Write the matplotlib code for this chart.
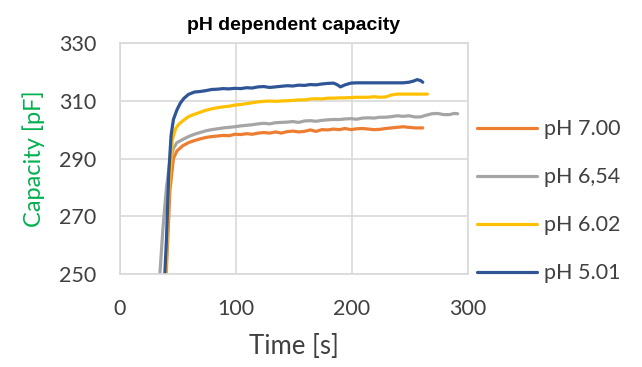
import matplotlib
matplotlib.use("Agg")
import matplotlib.pyplot as plt

# Capacity readings [pF] over time [s] for each buffer pH
t_ph700 = [37, 40, 43, 46, 49, 54, 59, 64, 69, 74, 79, 84, 89, 94, 99, 104, 109, 114,
           119, 124, 129, 134, 139, 144, 149, 154, 159, 164, 169, 174, 179, 184, 189,
           194, 199, 204, 209, 214, 219, 224, 229, 234, 239, 244, 249, 254, 258, 261]
c_ph700 = [228, 252, 279, 290.0, 292.6, 294.4, 295.5, 296.2, 296.8, 297.3, 297.6, 297.8,
           298.0, 297.9, 298.4, 298.3, 298.6, 298.4, 298.8, 299.0, 298.8, 299.2, 298.8,
           299.3, 299.5, 299.2, 299.4, 299.9, 299.4, 300.0, 299.9, 300.2, 300.0, 300.4,
           300.0, 300.3, 300.4, 300.2, 300.0, 300.1, 300.4, 300.6, 300.8, 301.0, 300.8,
           300.6, 300.6, 300.6]

t_ph654 = [31, 34, 37, 40, 43, 46, 49, 54, 59, 64, 69, 74, 79, 84, 89, 94, 99, 104,
           109, 114, 119, 124, 129, 134, 139, 144, 149, 154, 159, 164, 169, 174, 179,
           184, 189, 194, 199, 204, 209, 214, 219, 224, 229, 234, 239, 244, 249, 254,
           259, 264, 269, 274, 279, 284, 288, 291]
c_ph654 = [222, 248, 266, 280, 289, 293.5, 295.5, 296.6, 297.6, 298.4, 299.0, 299.6,
           300.0, 300.3, 300.6, 300.8, 301.0, 301.3, 301.5, 301.7, 302.0, 302.2, 302.0,
           302.4, 302.5, 302.6, 302.8, 302.5, 303.0, 303.1, 302.9, 303.2, 303.4, 303.5,
           303.5, 303.7, 303.8, 303.6, 304.0, 304.1, 304.0, 304.3, 304.3, 304.5, 304.8,
           304.6, 304.8, 304.4, 304.4, 305.0, 305.5, 305.6, 305.2, 305.2, 305.6, 305.5]

t_ph602 = [36, 39, 42, 45, 48, 51, 54, 59, 64, 69, 74, 79, 84, 89, 94, 99, 104, 109,
           114, 119, 124, 129, 134, 139, 144, 149, 154, 159, 164, 169, 174, 179, 184,
           189, 194, 199, 204, 209, 214, 219, 224, 229, 234, 239, 244, 249, 254, 259,
           265]
c_ph602 = [212, 246, 278, 296.4, 300.4, 302.0, 303.0, 304.5, 305.3, 306.0, 306.7, 307.2,
           307.6, 307.9, 308.1, 308.5, 308.7, 309.0, 309.3, 309.6, 309.8, 309.9, 309.8,
           309.9, 310.0, 310.1, 310.3, 310.3, 310.6, 310.7, 310.6, 310.9, 310.9, 311.0,
           311.0, 311.1, 311.2, 311.2, 311.2, 311.4, 311.2, 311.3, 312.0, 312.3, 312.3,
           312.3, 312.3, 312.3, 312.3]

t_ph501 = [35, 38, 40, 42, 44, 46, 49, 52, 55, 59, 64, 69, 74, 79, 84, 89, 94, 99,
           104, 109, 114, 119, 124, 129, 134, 139, 144, 149, 154, 159, 164, 169, 174,
           179, 184, 187, 190, 194, 199, 204, 209, 214, 219, 224, 229, 234, 239, 244,
           249, 253, 256, 259, 261]
c_ph501 = [220, 245, 262, 285, 298, 303.5, 306.8, 309.2, 310.8, 312.2, 313.0, 313.2,
           313.5, 313.9, 314.0, 314.2, 314.1, 314.3, 314.2, 314.5, 314.4, 314.8, 314.9,
           314.6, 314.8, 315.0, 315.2, 315.1, 315.4, 315.3, 315.6, 315.5, 315.8, 316.0,
           316.1, 315.6, 314.8, 315.5, 316.1, 316.2, 316.2, 316.2, 316.2, 316.2, 316.2,
           316.2, 316.2, 316.2, 316.4, 316.8, 317.3, 317.0, 316.4]

labels = ["pH 7.00", "pH 6,54", "pH 6.02", "pH 5.01"]
colors = ["#ED7D31", "#A5A5A5", "#FFC000", "#2F5597"]
series = [(t_ph700, c_ph700), (t_ph654, c_ph654), (t_ph602, c_ph602), (t_ph501, c_ph501)]

x_ticks = [0, 100, 200, 300]
y_ticks = [250, 270, 290, 310, 330]

body_font = "Lato"
text_color = "#404040"
grid_color = "#D9D9D9"
fs = 15.5

fig = plt.figure(figsize=(6.42, 3.67), dpi=100)
ax = fig.add_axes([0.187, 0.253, 0.542, 0.630])

for (t, c), lab, col in zip(series, labels, colors):
    ax.plot(t, c, color=col, lw=2.3, label=lab, solid_capstyle="round",
            solid_joinstyle="round")

ax.set_xlim(0, 300)
ax.set_ylim(250, 330)
ax.set_xticks(x_ticks)
ax.set_yticks(y_ticks)
ax.grid(True, color=grid_color, lw=1.2)
ax.set_axisbelow(True)
for s in ax.spines.values():
    s.set_color(grid_color)
    s.set_linewidth(1.2)
ax.tick_params(axis="y", length=0, pad=17, labelsize=fs, labelcolor=text_color)
ax.tick_params(axis="x", length=0, pad=18, labelsize=fs, labelcolor=text_color)
for lbl in ax.get_xticklabels() + ax.get_yticklabels():
    lbl.set_fontfamily(body_font)

ax.set_xlabel("Time [s]", fontsize=18.5, color=text_color, family=body_font, labelpad=11)
ax.set_ylabel("Capacity [pF]", fontsize=17, color="#00B050", family=body_font, labelpad=10)
ax.set_title("pH dependent capacity", fontsize=14, fontweight="bold",
             family="Liberation Sans", color="black", pad=9)

fig.legend(loc="center left", bbox_to_anchor=(0.743, 0.452), frameon=False,
           prop={"family": body_font, "size": fs}, labelcolor=text_color,
           handlelength=2.8, handletextpad=0.3, labelspacing=1.3,
           borderpad=0, borderaxespad=0)

fig.savefig("out.png", dpi=100)
